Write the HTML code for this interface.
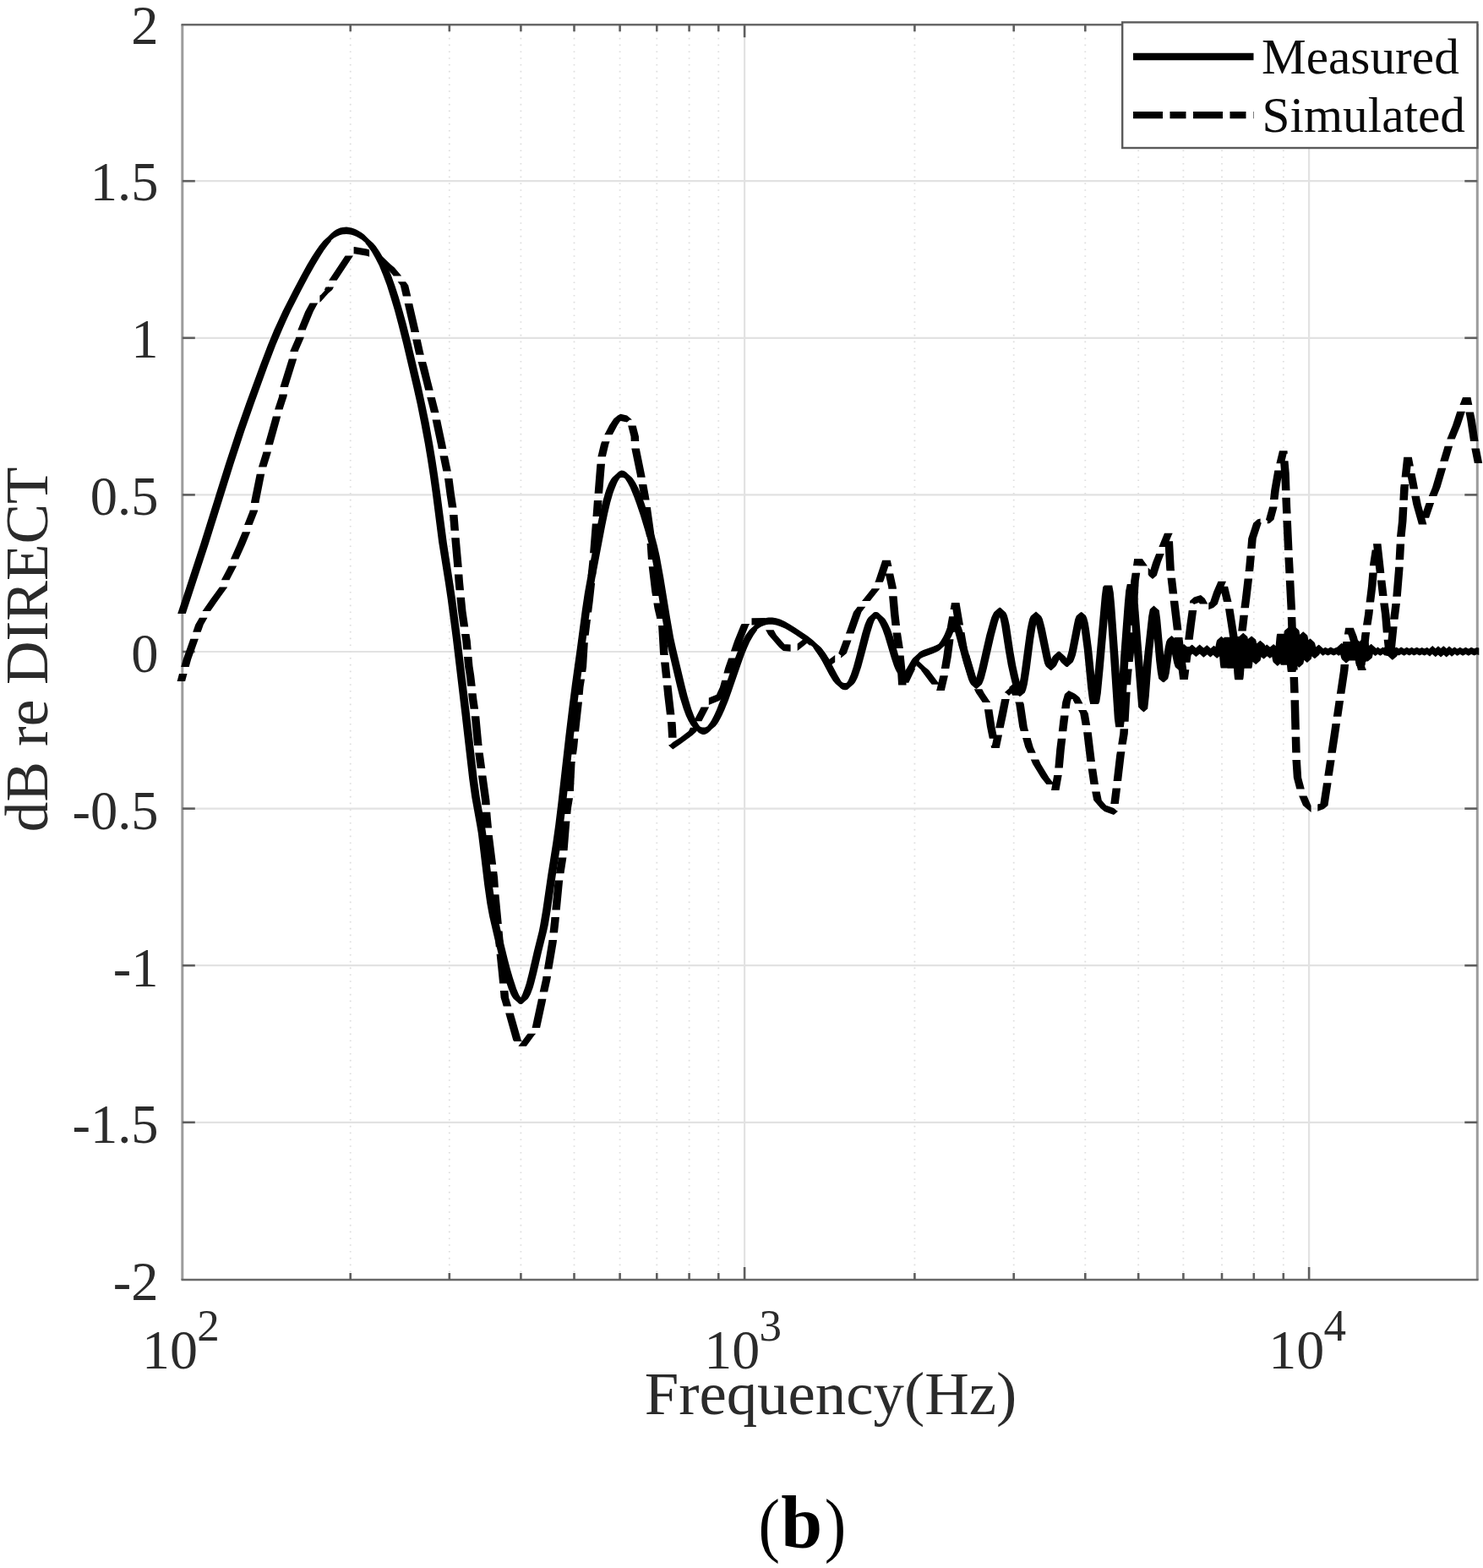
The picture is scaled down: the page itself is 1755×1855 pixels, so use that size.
<!DOCTYPE html>
<html lang="en"><head><meta charset="utf-8"><title>Measured vs simulated frequency response (b)</title>
<style>html,body{margin:0;padding:0;background:#fff}body{width:1755px;height:1855px;overflow:hidden}svg{display:block}text{font-family:"Liberation Serif","DejaVu Serif",serif}</style>
</head><body>
<svg xmlns="http://www.w3.org/2000/svg" width="1755" height="1855" viewBox="0 0 1755 1855">
<rect width="1755" height="1855" fill="#fff"/>
<g stroke="#e2e2e2" stroke-width="2.2" fill="none"><line x1="215.8" x2="1748.3" y1="214.2" y2="214.2"/><line x1="215.8" x2="1748.3" y1="399.8" y2="399.8"/><line x1="215.8" x2="1748.3" y1="585.4" y2="585.4"/><line x1="215.8" x2="1748.3" y1="771.0" y2="771.0"/><line x1="215.8" x2="1748.3" y1="956.6" y2="956.6"/><line x1="215.8" x2="1748.3" y1="1142.2" y2="1142.2"/><line x1="215.8" x2="1748.3" y1="1327.8" y2="1327.8"/><line x1="881.1" x2="881.1" y1="29.2" y2="1514.0"/><line x1="1549.1" x2="1549.1" y1="29.2" y2="1514.0"/></g>
<g stroke="#dedede" stroke-width="1.8" stroke-dasharray="1.6 6.2" fill="none"><line x1="414.7" x2="414.7" y1="29.2" y2="1514.0"/><line x1="531.8" x2="531.8" y1="29.2" y2="1514.0"/><line x1="616.4" x2="616.4" y1="29.2" y2="1514.0"/><line x1="679.5" x2="679.5" y1="29.2" y2="1514.0"/><line x1="733.6" x2="733.6" y1="29.2" y2="1514.0"/><line x1="777.3" x2="777.3" y1="29.2" y2="1514.0"/><line x1="815.6" x2="815.6" y1="29.2" y2="1514.0"/><line x1="850.3" x2="850.3" y1="29.2" y2="1514.0"/><line x1="1082.4" x2="1082.4" y1="29.2" y2="1514.0"/><line x1="1199.7" x2="1199.7" y1="29.2" y2="1514.0"/><line x1="1284.3" x2="1284.3" y1="29.2" y2="1514.0"/><line x1="1347.2" x2="1347.2" y1="29.2" y2="1514.0"/><line x1="1400.4" x2="1400.4" y1="29.2" y2="1514.0"/><line x1="1446.0" x2="1446.0" y1="29.2" y2="1514.0"/><line x1="1483.8" x2="1483.8" y1="29.2" y2="1514.0"/><line x1="1518.8" x2="1518.8" y1="29.2" y2="1514.0"/></g>
<g stroke="#9c9c9c" stroke-width="3" fill="none"><line x1="215.8" x2="215.8" y1="29.2" y2="1514.0"/><line x1="1748.3" x2="1748.3" y1="29.2" y2="1514.0"/></g>
<g stroke="#686868" stroke-width="2.6" fill="none"><line x1="214.5" x2="1749.6" y1="29.2" y2="29.2"/><line x1="214.5" x2="1749.6" y1="1514.0" y2="1514.0"/></g>
<g stroke="#5e5e5e" stroke-width="2.6" fill="none"><line x1="215.8" x2="230.8" y1="214.2" y2="214.2"/><line x1="1733.3" x2="1748.3" y1="214.2" y2="214.2"/><line x1="215.8" x2="230.8" y1="399.8" y2="399.8"/><line x1="1733.3" x2="1748.3" y1="399.8" y2="399.8"/><line x1="215.8" x2="230.8" y1="585.4" y2="585.4"/><line x1="1733.3" x2="1748.3" y1="585.4" y2="585.4"/><line x1="215.8" x2="230.8" y1="771.0" y2="771.0"/><line x1="1733.3" x2="1748.3" y1="771.0" y2="771.0"/><line x1="215.8" x2="230.8" y1="956.6" y2="956.6"/><line x1="1733.3" x2="1748.3" y1="956.6" y2="956.6"/><line x1="215.8" x2="230.8" y1="1142.2" y2="1142.2"/><line x1="1733.3" x2="1748.3" y1="1142.2" y2="1142.2"/><line x1="215.8" x2="230.8" y1="1327.8" y2="1327.8"/><line x1="1733.3" x2="1748.3" y1="1327.8" y2="1327.8"/><line x1="881.1" x2="881.1" y1="1514.0" y2="1499.0"/><line x1="881.1" x2="881.1" y1="29.2" y2="44.2"/><line x1="1549.1" x2="1549.1" y1="1514.0" y2="1499.0"/><line x1="1549.1" x2="1549.1" y1="29.2" y2="44.2"/><line x1="414.7" x2="414.7" y1="1514.0" y2="1506.0"/><line x1="414.7" x2="414.7" y1="29.2" y2="37.2"/><line x1="531.8" x2="531.8" y1="1514.0" y2="1506.0"/><line x1="531.8" x2="531.8" y1="29.2" y2="37.2"/><line x1="616.4" x2="616.4" y1="1514.0" y2="1506.0"/><line x1="616.4" x2="616.4" y1="29.2" y2="37.2"/><line x1="679.5" x2="679.5" y1="1514.0" y2="1506.0"/><line x1="679.5" x2="679.5" y1="29.2" y2="37.2"/><line x1="733.6" x2="733.6" y1="1514.0" y2="1506.0"/><line x1="733.6" x2="733.6" y1="29.2" y2="37.2"/><line x1="777.3" x2="777.3" y1="1514.0" y2="1506.0"/><line x1="777.3" x2="777.3" y1="29.2" y2="37.2"/><line x1="815.6" x2="815.6" y1="1514.0" y2="1506.0"/><line x1="815.6" x2="815.6" y1="29.2" y2="37.2"/><line x1="850.3" x2="850.3" y1="1514.0" y2="1506.0"/><line x1="850.3" x2="850.3" y1="29.2" y2="37.2"/><line x1="1082.4" x2="1082.4" y1="1514.0" y2="1506.0"/><line x1="1082.4" x2="1082.4" y1="29.2" y2="37.2"/><line x1="1199.7" x2="1199.7" y1="1514.0" y2="1506.0"/><line x1="1199.7" x2="1199.7" y1="29.2" y2="37.2"/><line x1="1284.3" x2="1284.3" y1="1514.0" y2="1506.0"/><line x1="1284.3" x2="1284.3" y1="29.2" y2="37.2"/><line x1="1347.2" x2="1347.2" y1="1514.0" y2="1506.0"/><line x1="1347.2" x2="1347.2" y1="29.2" y2="37.2"/><line x1="1400.4" x2="1400.4" y1="1514.0" y2="1506.0"/><line x1="1400.4" x2="1400.4" y1="29.2" y2="37.2"/><line x1="1446.0" x2="1446.0" y1="1514.0" y2="1506.0"/><line x1="1446.0" x2="1446.0" y1="29.2" y2="37.2"/><line x1="1483.8" x2="1483.8" y1="1514.0" y2="1506.0"/><line x1="1483.8" x2="1483.8" y1="29.2" y2="37.2"/><line x1="1518.8" x2="1518.8" y1="1514.0" y2="1506.0"/><line x1="1518.8" x2="1518.8" y1="29.2" y2="37.2"/></g>
<path d="M210.2,726.1L237.2,643.7L267.2,547.9L279.2,511.4L291.2,477.2L307.8,432.0L316.8,408.6L324.2,390.5L328.8,380.4L334.8,367.6L346.8,343.9L355.8,327.1L363.2,313.5L369.2,303.4L373.8,296.5L378.2,290.2L382.8,284.7L392.2,284.7L387.8,290.2L383.2,296.5L378.8,303.4L372.8,313.5L365.2,327.1L356.2,343.9L344.2,367.6L338.2,380.4L333.8,390.5L326.2,408.6L317.2,432.0L300.8,477.2L288.8,511.4L276.8,547.9L246.8,643.7L219.8,726.1ZM387.5,280.5L392.0,276.0L395.0,273.5L398.0,271.6L402.5,269.6L405.5,268.9L410.0,268.6L413.0,268.9L416.0,269.5L419.0,270.5L422.0,271.8L425.0,273.4L428.0,275.3L431.0,277.6L434.0,280.4L437.0,283.5L437.0,291.8L434.0,288.7L431.0,285.9L428.0,283.6L425.0,281.7L422.0,280.1L419.0,278.8L416.0,277.8L413.0,277.2L410.0,276.9L405.5,277.2L402.5,277.9L398.0,279.9L395.0,281.8L392.0,284.3L387.5,288.8ZM441.8,287.7L444.8,291.3L449.2,297.8L453.8,305.5L458.2,314.6L462.8,325.2L467.2,337.5L471.8,351.4L476.2,366.8L480.8,383.3L486.8,407.0L498.8,457.9L503.2,478.4L507.8,500.5L512.2,525.0L515.2,543.0L518.2,562.5L521.2,583.8L528.8,641.8L536.2,689.2L539.2,709.5L545.2,755.3L555.8,843.0L564.8,921.4L567.8,943.0L573.8,976.2L575.2,985.7L576.8,996.9L582.8,1047.0L585.8,1068.3L587.2,1077.1L588.8,1084.6L594.8,1110.3L600.8,1134.8L603.8,1146.2L606.8,1156.6L611.2,1170.0L614.2,1176.9L615.8,1179.6L617.2,1181.7L607.8,1181.7L606.2,1179.6L604.8,1176.9L601.8,1170.0L597.2,1156.6L594.2,1146.2L591.2,1134.8L585.2,1110.3L579.2,1084.6L577.8,1077.1L576.2,1068.3L573.2,1047.0L567.2,996.9L565.8,985.7L564.2,976.2L558.2,943.0L555.2,921.4L546.2,843.0L535.8,755.3L529.8,709.5L526.8,689.2L519.2,641.8L511.8,583.8L508.8,562.5L505.8,543.0L502.8,525.0L498.2,500.5L493.8,478.4L489.2,457.9L477.2,407.0L471.2,383.3L466.8,366.8L462.2,351.4L457.8,337.5L453.2,325.2L448.8,314.6L444.2,305.5L439.8,297.8L435.2,291.3L432.2,287.7ZM612.5,1177.5L614.0,1179.0L615.5,1179.7L617.0,1179.7L618.5,1178.9L620.0,1177.4L620.0,1185.7L618.5,1187.2L617.0,1188.0L615.5,1188.0L614.0,1187.3L612.5,1185.8ZM615.2,1181.5L616.8,1179.2L618.2,1176.2L621.2,1168.2L622.8,1163.2L625.8,1151.6L631.8,1125.6L637.8,1101.4L639.2,1094.2L642.2,1076.5L648.2,1035.3L654.2,997.3L657.2,976.1L660.2,951.5L669.2,871.7L673.8,833.4L676.8,810.1L682.8,767.0L688.8,721.8L691.8,701.7L694.8,684.9L706.8,621.9L709.8,607.4L712.8,594.7L715.8,584.2L717.2,579.7L720.2,572.2L721.8,569.2L723.2,566.7L724.8,564.7L734.2,564.7L732.8,566.7L731.2,569.2L729.8,572.2L726.8,579.7L725.2,584.2L722.2,594.7L719.2,607.4L716.2,621.9L704.2,684.9L701.2,701.7L698.2,721.8L692.2,767.0L686.2,810.1L683.2,833.4L678.8,871.7L669.8,951.5L666.8,976.1L663.8,997.3L657.8,1035.3L651.8,1076.5L648.8,1094.2L647.2,1101.4L641.2,1125.6L635.2,1151.6L632.2,1163.2L630.8,1168.2L627.8,1176.2L626.2,1179.2L624.8,1181.5ZM729.5,560.5L731.0,558.9L732.5,557.7L734.0,557.0L735.5,556.6L737.0,556.7L738.5,557.1L740.0,557.9L741.5,559.1L743.0,560.6L743.0,568.9L741.5,567.4L740.0,566.2L738.5,565.4L737.0,565.0L735.5,564.9L734.0,565.3L732.5,566.0L731.0,567.2L729.5,568.8ZM747.8,564.7L749.2,566.6L752.2,571.2L755.2,577.1L759.8,587.8L762.8,596.1L767.2,609.6L774.8,633.9L777.8,645.2L780.8,658.4L785.2,682.7L792.8,729.3L797.2,754.5L800.2,768.1L810.8,812.3L813.8,824.1L818.2,838.8L821.2,846.7L824.2,853.0L827.2,857.9L830.2,861.4L820.8,861.4L817.8,857.9L814.8,853.0L811.8,846.7L808.8,838.8L804.2,824.1L801.2,812.3L790.8,768.1L787.8,754.5L783.2,729.3L775.8,682.7L771.2,658.4L768.2,645.2L765.2,633.9L757.8,609.6L753.2,596.1L750.2,587.8L745.8,577.1L742.8,571.2L739.8,566.6L738.2,564.7ZM825.5,857.3L827.0,858.6L828.5,859.5L830.0,860.2L831.5,860.6L833.0,860.6L834.5,860.4L836.0,859.8L837.5,859.0L840.5,856.5L842.0,854.8L842.0,863.1L840.5,864.8L837.5,867.3L836.0,868.1L834.5,868.7L833.0,868.9L831.5,868.9L830.0,868.5L828.5,867.8L827.0,866.9L825.5,865.6ZM837.2,859.0L840.2,854.9L841.8,852.4L844.8,846.8L847.8,840.2L852.2,828.9L856.8,816.4L867.2,785.8L871.8,773.6L874.8,766.2L877.8,759.6L882.2,751.5L886.8,745.2L896.2,745.2L891.8,751.5L887.2,759.6L884.2,766.2L881.2,773.6L876.8,785.8L866.2,816.4L861.8,828.9L857.2,840.2L854.2,846.8L851.2,852.4L849.8,854.9L846.8,859.0ZM891.5,741.0L894.5,737.8L897.5,735.2L900.5,733.3L903.5,731.9L906.5,730.9L909.5,730.4L914.0,730.4L918.5,731.2L923.0,732.6L929.0,735.3L935.0,738.7L941.0,742.5L956.0,752.6L962.0,757.2L965.0,760.0L968.0,763.2L968.0,771.5L965.0,768.3L962.0,765.5L956.0,760.9L941.0,750.8L935.0,747.0L929.0,743.6L923.0,740.9L918.5,739.5L914.0,738.7L909.5,738.7L906.5,739.2L903.5,740.2L900.5,741.6L897.5,743.5L894.5,746.1L891.5,749.3ZM972.8,767.4L977.2,773.3L981.8,780.9L990.8,798.1L995.2,805.4L998.2,809.0L988.8,809.0L985.8,805.4L981.2,798.1L972.2,780.9L967.8,773.3L963.2,767.4ZM993.5,804.8L995.0,806.1L996.5,807.1L998.0,807.7L999.5,808.0L1001.0,808.0L1002.5,807.6L1004.0,806.7L1005.5,805.3L1005.5,813.6L1004.0,815.0L1002.5,815.9L1001.0,816.3L999.5,816.3L998.0,816.0L996.5,815.4L995.0,814.4L993.5,813.1ZM1000.8,809.5L1002.2,807.5L1003.8,805.0L1005.2,801.8L1006.8,798.0L1009.8,788.9L1012.8,778.1L1020.2,749.3L1023.2,739.6L1024.8,735.6L1026.2,732.4L1027.8,730.2L1037.2,730.2L1035.8,732.4L1034.2,735.6L1032.8,739.6L1029.8,749.3L1022.2,778.1L1019.2,788.9L1016.2,798.0L1014.8,801.8L1013.2,805.0L1011.8,807.5L1010.2,809.5ZM1032.5,726.0L1034.0,724.6L1035.5,723.9L1037.0,723.9L1038.5,724.3L1040.0,725.3L1041.5,726.7L1041.5,735.0L1040.0,733.6L1038.5,732.6L1037.0,732.1L1035.5,732.2L1034.0,732.9L1032.5,734.3ZM1046.2,730.9L1047.8,732.8L1050.8,737.9L1053.8,744.6L1056.8,753.0L1064.2,778.4L1067.2,787.4L1068.8,791.1L1070.2,794.2L1071.8,796.4L1062.2,796.4L1060.8,794.2L1059.2,791.1L1057.8,787.4L1054.8,778.4L1047.2,753.0L1044.2,744.6L1041.2,737.9L1038.2,732.8L1036.8,730.9ZM1067.0,792.2L1068.5,793.6L1070.0,794.1L1071.5,793.8L1073.0,792.9L1074.5,791.3L1074.5,799.6L1073.0,801.1L1071.5,802.1L1070.0,802.4L1068.5,801.9L1067.0,800.5ZM1069.8,795.4L1072.8,790.9L1078.8,780.7L1080.2,778.7L1089.8,778.7L1088.2,780.7L1082.2,790.9L1079.2,795.4ZM1085.0,774.6L1088.0,771.6L1089.5,770.6L1092.5,769.1L1104.5,764.7L1109.0,762.8L1112.0,760.9L1115.0,758.2L1115.0,766.5L1112.0,769.2L1109.0,771.1L1104.5,773.0L1092.5,777.4L1089.5,778.9L1088.0,779.9L1085.0,782.9ZM1110.2,762.4L1113.2,758.6L1116.2,753.4L1117.8,750.2L1122.2,739.5L1123.8,737.3L1133.2,737.3L1131.8,739.5L1127.2,750.2L1125.8,753.4L1122.8,758.6L1119.8,762.4ZM1128.5,733.2L1130.0,733.0L1130.0,741.3L1128.5,741.5ZM1134.8,737.1L1136.2,738.9L1137.8,742.2L1139.2,746.5L1149.8,784.8L1154.2,799.8L1155.8,804.2L1157.2,807.8L1158.8,810.1L1149.2,810.1L1147.8,807.8L1146.2,804.2L1144.8,799.8L1140.2,784.8L1129.8,746.5L1128.2,742.2L1126.8,738.9L1125.2,737.1ZM1154.0,805.9L1155.5,806.7L1157.0,805.6L1157.0,813.9L1155.5,815.0L1154.0,814.2ZM1152.2,809.7L1153.8,806.8L1155.2,802.4L1158.2,790.9L1167.2,751.4L1171.8,734.9L1173.2,730.5L1174.8,726.9L1176.2,724.3L1185.8,724.3L1184.2,726.9L1182.8,730.5L1181.2,734.9L1176.8,751.4L1167.8,790.9L1164.8,802.4L1163.2,806.8L1161.8,809.7ZM1181.0,720.1L1182.5,718.7L1184.0,718.7L1185.5,720.2L1185.5,728.5L1184.0,727.0L1182.5,727.0L1181.0,728.4ZM1190.2,724.4L1191.8,727.7L1193.2,732.8L1194.8,740.0L1199.2,769.8L1202.2,787.1L1205.2,800.6L1208.2,812.5L1209.8,817.1L1211.2,819.8L1201.8,819.8L1200.2,817.1L1198.8,812.5L1195.8,800.6L1192.8,787.1L1189.8,769.8L1185.2,740.0L1183.8,732.8L1182.2,727.7L1180.8,724.4ZM1206.5,815.6L1208.0,815.3L1208.0,823.6L1206.5,823.9ZM1203.2,819.4L1204.8,815.9L1206.2,809.8L1207.8,801.3L1209.2,790.9L1213.8,756.4L1215.2,746.4L1216.8,738.2L1218.2,732.3L1219.8,728.8L1229.2,728.8L1227.8,732.3L1226.2,738.2L1224.8,746.4L1223.2,756.4L1218.8,790.9L1217.2,801.3L1215.8,809.8L1214.2,815.9L1212.8,819.4ZM1224.5,724.7L1226.0,723.6L1227.5,724.8L1227.5,733.1L1226.0,731.9L1224.5,733.0ZM1232.2,728.9L1233.8,732.3L1235.2,737.2L1236.8,743.5L1244.2,779.7L1245.8,785.2L1247.2,788.5L1237.8,788.5L1236.2,785.2L1234.8,779.7L1227.2,743.5L1225.8,737.2L1224.2,732.3L1222.8,728.9ZM1242.5,784.3L1244.0,784.9L1244.0,793.2L1242.5,792.6ZM1239.2,789.1L1240.8,787.2L1245.2,777.5L1246.8,775.4L1256.2,775.4L1254.8,777.5L1250.2,787.2L1248.8,789.1ZM1251.5,771.3L1253.0,770.4L1254.5,770.9L1256.0,772.5L1256.0,780.8L1254.5,779.2L1253.0,778.7L1251.5,779.6ZM1260.8,776.7L1265.2,783.8L1255.8,783.8L1251.2,776.7ZM1260.5,779.6L1262.0,780.9L1263.5,780.7L1265.0,779.1L1265.0,787.4L1263.5,789.0L1262.0,789.1L1260.5,787.9ZM1260.2,783.2L1261.8,780.1L1263.2,775.6L1264.8,769.7L1270.8,739.0L1272.2,732.6L1273.8,728.6L1283.2,728.6L1281.8,732.6L1280.2,739.0L1274.2,769.7L1272.8,775.6L1271.2,780.1L1269.8,783.2ZM1278.5,724.5L1280.0,723.9L1280.0,732.2L1278.5,732.8ZM1284.8,728.0L1286.2,730.9L1287.8,736.9L1289.2,745.4L1292.2,768.5L1296.8,814.1L1298.2,826.8L1299.8,833.0L1290.2,833.0L1288.8,826.8L1287.2,814.1L1282.8,768.5L1279.8,745.4L1278.2,736.9L1276.8,730.9L1275.2,728.0ZM1290.2,833.0L1291.8,830.4L1293.2,820.6L1296.2,789.7L1303.8,705.1L1305.2,694.4L1306.8,692.6L1316.2,692.6L1314.8,694.4L1313.2,705.1L1305.8,789.7L1302.8,820.6L1301.2,830.4L1299.8,833.0ZM1316.2,692.6L1317.8,700.9L1319.2,716.6L1323.8,780.0L1328.2,850.1L1329.8,860.3L1320.2,860.3L1318.8,850.1L1314.2,780.0L1309.8,716.6L1308.2,700.9L1306.8,692.6ZM1320.2,860.3L1321.8,849.2L1326.2,775.5L1330.8,713.8L1332.2,698.7L1333.8,691.0L1343.2,691.0L1341.8,698.7L1340.2,713.8L1335.8,775.5L1331.2,849.2L1329.8,860.3ZM1343.2,691.0L1344.8,693.8L1346.2,705.9L1355.2,819.8L1356.8,836.7L1347.2,836.7L1345.8,819.8L1336.8,705.9L1335.2,693.8L1333.8,691.0ZM1352.0,832.6L1353.5,834.2L1353.5,842.5L1352.0,840.9ZM1348.8,838.4L1350.2,823.8L1353.2,784.2L1354.8,769.1L1359.2,728.9L1360.8,720.8L1370.2,720.8L1368.8,728.9L1364.2,769.1L1362.8,784.2L1359.8,823.8L1358.2,838.4ZM1365.5,716.6L1367.0,717.9L1367.0,726.2L1365.5,724.9ZM1371.8,722.1L1373.2,732.4L1377.8,782.2L1379.2,795.3L1380.8,802.9L1371.2,802.9L1369.8,795.3L1368.2,782.2L1363.8,732.4L1362.2,722.1ZM1376.0,798.7L1377.5,799.0L1377.5,807.3L1376.0,807.0ZM1372.8,803.1L1374.2,796.6L1377.2,775.0L1378.8,765.5L1380.2,758.9L1381.8,756.0L1391.2,756.0L1389.8,758.9L1388.2,765.5L1386.8,775.0L1383.8,796.6L1382.2,803.1ZM1386.5,751.9L1388.0,753.5L1388.0,761.8L1386.5,760.2ZM1392.8,757.6L1394.2,762.7L1398.8,784.5L1400.2,789.2L1390.8,789.2L1389.2,784.5L1384.8,762.7L1383.2,757.6ZM1395.5,785.0L1396.1,785.1L1396.1,793.4L1395.5,793.3ZM1391.4,789.3L1394.2,772.4L1395.0,768.7L1395.8,766.5L1405.2,766.5L1404.5,768.7L1403.7,772.4L1400.9,789.3ZM1400.5,762.4L1401.2,762.0L1401.2,770.3L1400.5,770.7ZM1405.9,766.1L1406.6,766.9L1408.6,772.3L1409.3,773.7L1399.8,773.7L1399.1,772.3L1397.1,766.9L1396.4,766.1ZM1404.6,769.6L1405.3,770.2L1406.0,769.8L1406.0,778.1L1405.3,778.5L1404.6,777.9ZM1401.2,773.9L1402.0,772.9L1404.2,768.5L1404.9,767.4L1414.4,767.4L1413.7,768.5L1411.5,772.9L1410.7,773.9ZM1409.7,763.3L1410.4,762.8L1411.3,763.1L1411.3,771.4L1410.4,771.1L1409.7,771.6ZM1416.0,767.3L1416.9,768.3L1419.4,772.4L1409.9,772.4L1407.4,768.3L1406.5,767.3ZM1414.7,768.2L1415.5,768.7L1416.2,768.2L1416.2,776.5L1415.5,777.0L1414.7,776.5ZM1411.5,772.4L1414.3,767.2L1423.8,767.2L1421.0,772.4ZM1419.1,763.0L1419.8,762.6L1420.6,763.2L1420.6,771.5L1419.8,770.9L1419.1,771.3ZM1425.3,767.3L1428.5,773.1L1419.0,773.1L1415.8,767.3ZM1423.7,768.9L1424.5,769.5L1425.1,769.0L1425.1,777.3L1424.5,777.8L1423.7,777.2ZM1420.4,773.2L1422.9,767.8L1432.4,767.8L1429.9,773.2ZM1427.6,763.7L1428.2,763.2L1429.0,763.8L1429.0,772.1L1428.2,771.5L1427.6,772.0ZM1433.8,767.9L1436.1,772.6L1426.6,772.6L1424.3,767.9ZM1431.4,768.5L1432.2,769.1L1433.1,768.6L1433.1,776.9L1432.2,777.4L1431.4,776.8ZM1428.4,772.7L1431.1,768.4L1440.6,768.4L1437.9,772.7ZM1435.9,764.2L1436.7,763.7L1437.4,764.4L1437.4,772.7L1436.7,772.0L1435.9,772.5ZM1442.2,768.6L1444.1,773.6L1444.7,774.6L1435.2,774.6L1434.6,773.6L1432.7,768.6ZM1440.0,770.4L1440.7,770.3L1440.7,778.6L1440.0,778.7ZM1435.9,774.4L1437.0,771.4L1439.6,759.1L1440.3,757.2L1449.8,757.2L1449.1,759.1L1446.5,771.4L1445.4,774.4ZM1445.1,753.0L1445.4,752.7L1445.4,761.0L1445.1,761.3ZM1450.2,756.9L1450.7,757.6L1451.3,761.0L1453.4,786.0L1454.0,789.8L1454.4,790.6L1444.9,790.6L1444.5,789.8L1443.9,786.0L1441.8,761.0L1441.2,757.6L1440.7,756.9ZM1444.9,790.6L1445.2,789.5L1445.8,785.3L1447.9,757.5L1448.3,754.8L1448.7,753.8L1458.2,753.8L1457.8,754.8L1457.4,757.5L1455.3,785.3L1454.7,789.5L1454.4,790.6ZM1458.2,753.8L1458.6,754.8L1459.1,758.9L1461.0,785.6L1461.6,789.7L1462.0,790.7L1452.5,790.7L1452.1,789.7L1451.5,785.6L1449.6,758.9L1449.1,754.8L1448.7,753.8ZM1452.5,790.7L1452.9,789.6L1453.6,785.4L1456.4,756.9L1456.9,754.0L1457.3,752.9L1466.8,752.9L1466.4,754.0L1465.9,756.9L1463.1,785.4L1462.4,789.6L1462.0,790.7ZM1466.8,752.9L1467.1,753.2L1467.3,754.2L1467.8,758.7L1469.8,796.0L1470.4,802.4L1470.9,804.3L1461.4,804.3L1460.9,802.4L1460.3,796.0L1458.3,758.7L1457.8,754.2L1457.6,753.2L1457.3,752.9ZM1461.4,804.3L1461.9,803.1L1462.4,798.8L1465.1,762.3L1465.8,755.5L1466.4,752.9L1475.9,752.9L1475.3,755.5L1474.6,762.3L1471.9,798.8L1471.4,803.1L1470.9,804.3ZM1471.2,748.8L1471.3,748.7L1471.3,757.0L1471.2,757.1ZM1476.1,752.9L1476.4,753.4L1477.1,756.9L1479.9,785.3L1480.6,789.5L1481.1,790.7L1471.6,790.7L1471.1,789.5L1470.4,785.3L1467.6,756.9L1466.9,753.4L1466.6,752.9ZM1471.6,790.7L1472.1,789.8L1472.6,787.1L1475.1,762.6L1475.7,758.1L1476.2,756.6L1485.7,756.6L1485.2,758.1L1484.6,762.6L1482.1,787.1L1481.6,789.8L1481.1,790.7ZM1481.0,752.5L1481.2,752.4L1481.2,760.7L1481.0,760.8ZM1486.0,756.6L1486.2,756.9L1486.9,759.5L1489.6,777.7L1490.4,781.0L1490.9,781.9L1481.4,781.9L1480.9,781.0L1480.1,777.7L1477.4,759.5L1476.7,756.9L1476.5,756.6ZM1486.1,777.7L1486.4,777.7L1486.4,786.0L1486.1,786.0ZM1481.7,781.8L1482.0,781.4L1482.6,779.6L1485.4,765.3L1485.9,763.1L1486.5,762.0L1496.0,762.0L1495.4,763.1L1494.9,765.3L1492.1,779.6L1491.5,781.4L1491.2,781.8ZM1491.3,757.8L1491.7,757.9L1491.7,766.2L1491.3,766.1ZM1496.4,762.0L1497.2,763.8L1499.0,772.5L1499.7,775.0L1500.1,775.5L1490.6,775.5L1490.2,775.0L1489.5,772.5L1487.7,763.8L1486.9,762.0ZM1495.3,771.3L1495.8,771.2L1495.8,779.5L1495.3,779.6ZM1491.1,775.3L1491.6,774.4L1493.5,768.1L1494.0,767.0L1503.5,767.0L1503.0,768.1L1501.1,774.4L1500.6,775.3ZM1498.7,762.8L1499.2,762.4L1499.7,762.8L1499.7,771.1L1499.2,770.7L1498.7,771.1ZM1504.5,767.0L1505.0,768.2L1506.5,773.2L1507.1,774.4L1497.6,774.4L1497.0,773.2L1495.5,768.2L1495.0,767.0ZM1502.3,770.3L1502.9,770.8L1503.4,770.3L1503.4,778.6L1502.9,779.1L1502.3,778.6ZM1498.7,774.5L1499.2,773.3L1501.5,767.1L1502.1,766.3L1511.6,766.3L1511.0,767.1L1508.7,773.3L1508.2,774.5ZM1506.9,762.2L1507.5,762.2L1507.5,770.5L1506.9,770.5ZM1512.2,766.4L1512.5,766.9L1513.2,769.3L1515.6,781.6L1516.3,783.6L1506.8,783.6L1506.1,781.6L1503.7,769.3L1503.0,766.9L1502.7,766.4ZM1511.5,779.4L1511.8,779.7L1512.1,779.4L1512.1,787.7L1511.8,788.0L1511.5,787.7ZM1507.4,783.6L1507.9,781.8L1508.5,777.0L1510.5,754.3L1511.0,750.5L1511.5,749.7L1521.0,749.7L1520.5,750.5L1520.0,754.3L1518.0,777.0L1517.4,781.8L1516.9,783.6ZM1521.0,749.7L1521.5,751.5L1522.1,756.1L1524.4,782.3L1524.9,786.0L1525.4,786.8L1515.9,786.8L1515.4,786.0L1514.9,782.3L1512.6,756.1L1512.0,751.5L1511.5,749.7ZM1515.9,786.8L1516.3,785.8L1516.8,782.0L1519.1,752.5L1519.6,748.0L1520.1,746.1L1529.6,746.1L1529.1,748.0L1528.6,752.5L1526.3,782.0L1525.8,785.8L1525.4,786.8ZM1524.9,741.9L1525.1,742.1L1525.1,750.4L1524.9,750.2ZM1529.8,746.3L1530.0,747.1L1530.5,751.7L1532.5,787.5L1533.0,792.8L1533.4,794.9L1523.9,794.9L1523.5,792.8L1523.0,787.5L1521.0,751.7L1520.5,747.1L1520.3,746.3ZM1523.9,794.9L1524.4,792.9L1524.8,787.6L1526.7,752.1L1527.2,747.1L1527.5,745.6L1537.0,745.6L1536.7,747.1L1536.2,752.1L1534.3,787.6L1533.9,792.9L1533.4,794.9ZM1532.2,741.4L1532.4,741.2L1532.4,749.5L1532.2,749.7ZM1537.2,745.4L1537.7,747.3L1538.3,751.9L1540.9,780.3L1541.6,784.3L1542.0,785.5L1532.5,785.5L1532.1,784.3L1531.4,780.3L1528.8,751.9L1528.2,747.3L1527.7,745.4ZM1537.3,781.4L1537.4,781.4L1537.4,789.7L1537.3,789.7ZM1532.7,785.5L1533.0,784.7L1533.6,782.0L1536.2,757.3L1536.9,752.8L1537.4,751.5L1546.9,751.5L1546.4,752.8L1545.7,757.3L1543.1,782.0L1542.5,784.7L1542.2,785.5ZM1542.1,747.3L1542.3,747.3L1542.3,755.6L1542.1,755.6ZM1547.1,751.5L1547.5,752.4L1548.1,755.6L1550.5,775.6L1551.0,778.8L1551.4,779.7L1541.9,779.7L1541.5,778.8L1541.0,775.6L1538.6,755.6L1538.0,752.4L1537.6,751.5ZM1546.6,775.5L1546.9,775.6L1546.9,783.9L1546.6,783.8ZM1542.1,779.7L1542.4,779.3L1542.8,777.5L1544.6,762.9L1545.1,760.6L1545.6,759.6L1555.1,759.6L1554.6,760.6L1554.1,762.9L1552.3,777.5L1551.9,779.3L1551.6,779.7ZM1550.3,755.4L1550.7,755.5L1550.7,763.8L1550.3,763.7ZM1555.4,759.7L1556.2,761.2L1559.0,772.2L1559.8,774.4L1560.2,774.9L1550.7,774.9L1550.3,774.4L1549.5,772.2L1546.7,761.2L1545.9,759.7ZM1555.5,770.7L1556.2,770.7L1556.2,779.0L1555.5,779.0ZM1551.4,774.9L1552.1,774.0L1554.1,769.0L1554.8,767.6L1564.3,767.6L1563.6,769.0L1561.6,774.0L1560.9,774.9ZM1559.6,763.5L1560.3,762.8L1561.3,763.0L1562.4,764.0L1562.4,772.3L1561.3,771.3L1560.3,771.1L1559.6,771.8ZM1567.1,768.2L1569.2,770.8L1559.7,770.8L1557.6,768.2ZM1564.5,766.6L1565.4,767.4L1566.9,766.7L1568.2,765.7L1571.5,767.3L1574.8,765.6L1578.3,767.3L1581.8,765.8L1583.2,766.9L1584.6,767.4L1584.6,775.7L1583.2,775.2L1581.8,774.1L1578.3,775.6L1574.8,773.9L1571.5,775.6L1568.2,774.0L1566.9,775.0L1565.4,775.7L1564.5,774.9ZM1579.8,771.6L1580.4,770.7L1582.0,766.1L1582.7,765.2L1592.2,765.2L1591.5,766.1L1589.9,770.7L1589.3,771.6ZM1587.4,761.0L1588.1,761.1L1588.1,769.4L1587.4,769.3ZM1592.9,765.3L1593.9,768.0L1596.8,778.8L1597.6,780.3L1588.1,780.3L1587.3,778.8L1584.4,768.0L1583.4,765.3ZM1592.8,776.2L1593.2,776.3L1593.2,784.6L1592.8,784.5ZM1588.4,780.4L1588.7,780.1L1589.3,778.4L1591.5,764.0L1592.0,761.9L1592.5,761.2L1602.0,761.2L1601.5,761.9L1601.0,764.0L1598.8,778.4L1598.2,780.1L1597.9,780.4ZM1602.0,761.2L1602.5,762.0L1603.0,764.1L1605.0,778.8L1605.5,780.9L1605.9,781.6L1596.4,781.6L1596.0,780.9L1595.5,778.8L1593.5,764.1L1593.0,762.0L1592.5,761.2ZM1596.4,781.6L1596.8,780.8L1597.2,778.6L1599.3,762.1L1599.8,760.3L1600.0,759.8L1609.5,759.8L1609.3,760.3L1608.8,762.1L1606.7,778.6L1606.3,780.8L1605.9,781.6ZM1604.8,755.7L1605.0,755.7L1605.0,764.0L1604.8,764.0ZM1609.8,759.8L1610.4,761.5L1611.0,765.1L1613.9,784.9L1614.5,787.6L1614.9,788.1L1605.4,788.1L1605.0,787.6L1604.4,784.9L1601.5,765.1L1600.9,761.5L1600.3,759.8ZM1605.4,788.1L1606.0,786.9L1606.5,783.7L1608.5,761.5L1609.0,759.1L1609.1,758.7L1618.6,758.7L1618.5,759.1L1618.0,761.5L1616.0,783.7L1615.5,786.9L1614.9,788.1ZM1613.9,754.6L1614.1,754.5L1614.1,762.8L1613.9,762.9ZM1618.9,758.7L1619.7,761.0L1622.0,774.6L1622.5,777.1L1623.1,778.4L1613.6,778.4L1613.0,777.1L1612.5,774.6L1610.2,761.0L1609.4,758.7ZM1618.3,774.2L1618.7,774.2L1618.7,782.5L1618.3,782.5ZM1614.0,778.4L1614.4,777.7L1616.7,768.1L1617.1,766.9L1617.6,766.3L1627.1,766.3L1626.6,766.9L1626.2,768.1L1623.9,777.7L1623.5,778.4ZM1622.3,762.1L1623.1,762.1L1624.0,763.0L1624.0,771.3L1623.1,770.4L1622.3,770.4ZM1628.7,767.1L1631.3,771.2L1621.8,771.2L1619.2,767.1ZM1626.5,767.0L1627.2,767.7L1628.8,766.9L1630.1,765.6L1631.3,766.1L1632.5,766.9L1633.6,767.4L1636.6,765.5L1637.9,766.7L1639.2,767.5L1639.2,775.8L1637.9,775.0L1636.6,773.8L1633.6,775.7L1632.5,775.2L1631.3,774.4L1630.1,773.9L1628.8,775.2L1627.2,776.0L1626.5,775.3ZM1634.4,771.6L1635.1,770.8L1636.4,767.9L1637.2,766.7L1646.7,766.7L1645.9,767.9L1644.6,770.8L1643.9,771.6ZM1641.9,762.6L1642.7,762.4L1642.7,770.7L1641.9,770.9ZM1647.5,766.6L1648.5,768.1L1651.3,775.2L1651.8,776.1L1642.3,776.1L1641.8,775.2L1639.0,768.1L1638.0,766.6ZM1647.1,772.0L1647.6,772.5L1648.3,772.2L1648.3,780.5L1647.6,780.8L1647.1,780.3ZM1643.6,776.4L1644.3,775.3L1646.5,770.7L1647.1,769.9L1656.6,769.9L1656.0,770.7L1653.8,775.3L1653.1,776.4ZM1651.9,765.8L1653.1,765.8L1654.2,766.7L1655.3,767.3L1658.2,765.6L1661.7,767.5L1664.6,765.8L1667.9,767.3L1670.6,765.8L1673.2,767.3L1676.8,765.7L1679.9,767.3L1682.7,765.9L1685.5,767.3L1686.6,766.9L1687.7,766.2L1688.9,765.9L1690.0,766.6L1691.2,767.7L1692.3,768.1L1693.1,767.3L1693.1,775.6L1692.3,776.4L1691.2,776.0L1690.0,774.9L1688.9,774.2L1687.7,774.5L1686.6,775.2L1685.5,775.6L1682.7,774.2L1679.9,775.6L1676.8,774.0L1673.2,775.6L1670.6,774.1L1667.9,775.6L1664.6,774.1L1661.7,775.8L1658.2,773.9L1655.3,775.6L1654.2,775.0L1653.1,774.1L1651.9,774.1ZM1688.3,771.4L1689.9,768.7L1699.4,768.7L1697.8,771.4ZM1694.7,764.5L1695.5,764.0L1696.3,764.9L1696.3,773.2L1695.5,772.3L1694.7,772.8ZM1701.1,769.0L1702.7,772.4L1693.2,772.4L1691.6,769.0ZM1698.0,768.2L1698.8,769.0L1699.6,768.2L1699.6,776.5L1698.8,777.3L1698.0,776.5ZM1694.9,772.4L1696.5,769.1L1706.0,769.1L1704.4,772.4ZM1701.3,764.9L1702.0,764.2L1702.8,765.0L1702.8,773.3L1702.0,772.5L1701.3,773.2ZM1707.6,769.2L1709.0,772.7L1699.5,772.7L1698.1,769.2ZM1704.3,768.5L1705.0,769.3L1705.7,768.8L1705.7,777.1L1705.0,777.6L1704.3,776.8ZM1700.9,773.0L1702.8,768.9L1712.3,768.9L1710.4,773.0ZM1707.6,764.7L1708.3,764.2L1709.0,764.7L1709.0,773.0L1708.3,772.5L1707.6,773.0ZM1713.7,768.8L1715.9,772.8L1706.4,772.8L1704.2,768.8ZM1711.1,768.7L1711.8,769.2L1712.6,768.5L1712.6,776.8L1711.8,777.5L1711.1,777.0ZM1707.9,772.7L1709.4,769.4L1718.9,769.4L1717.4,772.7ZM1714.1,765.3L1714.9,764.4L1715.7,765.0L1715.7,773.3L1714.9,772.7L1714.1,773.6ZM1720.4,769.1L1721.9,771.8L1712.4,771.8L1710.9,769.1ZM1717.2,767.7L1717.9,768.4L1719.0,767.7L1719.0,776.0L1717.9,776.7L1717.2,776.0ZM1714.3,771.9L1715.3,770.5L1724.8,770.5L1723.8,771.9ZM1720.1,766.3L1721.2,765.5L1722.3,765.9L1723.4,766.9L1724.5,767.4L1725.7,767.0L1726.8,766.2L1727.9,765.8L1731.1,767.4L1734.5,765.8L1737.9,767.4L1741.1,765.8L1744.6,767.2L1747.7,766.0L1750.3,766.6L1750.3,774.9L1747.7,774.3L1744.6,775.5L1741.1,774.1L1737.9,775.7L1734.5,774.1L1731.1,775.7L1727.9,774.1L1726.8,774.5L1725.7,775.3L1724.5,775.7L1723.4,775.2L1722.3,774.2L1721.2,773.8L1720.1,774.6ZM382.8,284.7L387.5,280.5L392.2,284.7L387.5,288.8ZM432.2,287.7L437.0,283.5L441.8,287.7L437.0,291.8ZM607.8,1181.7L612.5,1177.5L617.2,1181.7L612.5,1185.8ZM615.2,1181.5L620.0,1177.4L624.8,1181.5L620.0,1185.7ZM724.8,564.7L729.5,560.5L734.2,564.7L729.5,568.8ZM738.2,564.7L743.0,560.6L747.8,564.7L743.0,568.9ZM820.8,861.4L825.5,857.3L830.2,861.4L825.5,865.6ZM837.2,859.0L842.0,854.8L846.8,859.0L842.0,863.1ZM886.8,745.2L891.5,741.0L896.2,745.2L891.5,749.3ZM963.2,767.4L968.0,763.2L972.8,767.4L968.0,771.5ZM988.8,809.0L993.5,804.8L998.2,809.0L993.5,813.1ZM1000.8,809.5L1005.5,805.3L1010.2,809.5L1005.5,813.6ZM1027.8,730.2L1032.5,726.0L1037.2,730.2L1032.5,734.3ZM1036.8,730.9L1041.5,726.7L1046.2,730.9L1041.5,735.0ZM1062.2,796.4L1067.0,792.2L1071.8,796.4L1067.0,800.5ZM1069.8,795.4L1074.5,791.3L1079.2,795.4L1074.5,799.6ZM1080.2,778.7L1085.0,774.6L1089.8,778.7L1085.0,782.9ZM1110.2,762.4L1115.0,758.2L1119.8,762.4L1115.0,766.5ZM1123.8,737.3L1128.5,733.2L1133.2,737.3L1128.5,741.5ZM1125.2,737.1L1130.0,733.0L1134.8,737.1L1130.0,741.3ZM1149.2,810.1L1154.0,805.9L1158.8,810.1L1154.0,814.2ZM1152.2,809.7L1157.0,805.6L1161.8,809.7L1157.0,813.9ZM1176.2,724.3L1181.0,720.1L1185.8,724.3L1181.0,728.4ZM1180.8,724.4L1185.5,720.2L1190.2,724.4L1185.5,728.5ZM1201.8,819.8L1206.5,815.6L1211.2,819.8L1206.5,823.9ZM1203.2,819.4L1208.0,815.3L1212.8,819.4L1208.0,823.6ZM1219.8,728.8L1224.5,724.7L1229.2,728.8L1224.5,733.0ZM1222.8,728.9L1227.5,724.8L1232.2,728.9L1227.5,733.1ZM1237.8,788.5L1242.5,784.3L1247.2,788.5L1242.5,792.6ZM1239.2,789.1L1244.0,784.9L1248.8,789.1L1244.0,793.2ZM1246.8,775.4L1251.5,771.3L1256.2,775.4L1251.5,779.6ZM1251.2,776.7L1256.0,772.5L1260.8,776.7L1256.0,780.8ZM1255.8,783.8L1260.5,779.6L1265.2,783.8L1260.5,787.9ZM1260.2,783.2L1265.0,779.1L1269.8,783.2L1265.0,787.4ZM1273.8,728.6L1278.5,724.5L1283.2,728.6L1278.5,732.8ZM1275.2,728.0L1280.0,723.9L1284.8,728.0L1280.0,732.2ZM1347.2,836.7L1352.0,832.6L1356.8,836.7L1352.0,840.9ZM1348.8,838.4L1353.5,834.2L1358.2,838.4L1353.5,842.5ZM1360.8,720.8L1365.5,716.6L1370.2,720.8L1365.5,724.9ZM1362.2,722.1L1367.0,717.9L1371.8,722.1L1367.0,726.2ZM1371.2,802.9L1376.0,798.7L1380.8,802.9L1376.0,807.0ZM1372.8,803.1L1377.5,799.0L1382.2,803.1L1377.5,807.3ZM1381.8,756.0L1386.5,751.9L1391.2,756.0L1386.5,760.2ZM1383.2,757.6L1388.0,753.5L1392.8,757.6L1388.0,761.8ZM1390.8,789.2L1395.5,785.0L1400.2,789.2L1395.5,793.3ZM1391.4,789.3L1396.1,785.1L1400.9,789.3L1396.1,793.4ZM1395.8,766.5L1400.5,762.4L1405.2,766.5L1400.5,770.7ZM1396.4,766.1L1401.2,762.0L1405.9,766.1L1401.2,770.3ZM1399.8,773.7L1404.6,769.6L1409.3,773.7L1404.6,777.9ZM1401.2,773.9L1406.0,769.8L1410.7,773.9L1406.0,778.1ZM1404.9,767.4L1409.7,763.3L1414.4,767.4L1409.7,771.6ZM1406.5,767.3L1411.3,763.1L1416.0,767.3L1411.3,771.4ZM1409.9,772.4L1414.7,768.2L1419.4,772.4L1414.7,776.5ZM1411.5,772.4L1416.2,768.2L1421.0,772.4L1416.2,776.5ZM1414.3,767.2L1419.1,763.0L1423.8,767.2L1419.1,771.3ZM1415.8,767.3L1420.6,763.2L1425.3,767.3L1420.6,771.5ZM1419.0,773.1L1423.7,768.9L1428.5,773.1L1423.7,777.2ZM1420.4,773.2L1425.1,769.0L1429.9,773.2L1425.1,777.3ZM1422.9,767.8L1427.6,763.7L1432.4,767.8L1427.6,772.0ZM1424.3,767.9L1429.0,763.8L1433.8,767.9L1429.0,772.1ZM1426.6,772.6L1431.4,768.5L1436.1,772.6L1431.4,776.8ZM1428.4,772.7L1433.1,768.6L1437.9,772.7L1433.1,776.9ZM1431.1,768.4L1435.9,764.2L1440.6,768.4L1435.9,772.5ZM1432.7,768.6L1437.4,764.4L1442.2,768.6L1437.4,772.7ZM1435.2,774.6L1440.0,770.4L1444.7,774.6L1440.0,778.7ZM1435.9,774.4L1440.7,770.3L1445.4,774.4L1440.7,778.6ZM1440.3,757.2L1445.1,753.0L1449.8,757.2L1445.1,761.3ZM1440.7,756.9L1445.4,752.7L1450.2,756.9L1445.4,761.0ZM1466.4,752.9L1471.2,748.8L1475.9,752.9L1471.2,757.1ZM1466.6,752.9L1471.3,748.7L1476.1,752.9L1471.3,757.0ZM1476.2,756.6L1481.0,752.5L1485.7,756.6L1481.0,760.8ZM1476.5,756.6L1481.2,752.4L1486.0,756.6L1481.2,760.7ZM1481.4,781.9L1486.1,777.7L1490.9,781.9L1486.1,786.0ZM1481.7,781.8L1486.4,777.7L1491.2,781.8L1486.4,786.0ZM1486.5,762.0L1491.3,757.8L1496.0,762.0L1491.3,766.1ZM1486.9,762.0L1491.7,757.9L1496.4,762.0L1491.7,766.2ZM1490.6,775.5L1495.3,771.3L1500.1,775.5L1495.3,779.6ZM1491.1,775.3L1495.8,771.2L1500.6,775.3L1495.8,779.5ZM1494.0,767.0L1498.7,762.8L1503.5,767.0L1498.7,771.1ZM1495.0,767.0L1499.7,762.8L1504.5,767.0L1499.7,771.1ZM1497.6,774.4L1502.3,770.3L1507.1,774.4L1502.3,778.6ZM1498.7,774.5L1503.4,770.3L1508.2,774.5L1503.4,778.6ZM1502.1,766.3L1506.9,762.2L1511.6,766.3L1506.9,770.5ZM1502.7,766.4L1507.5,762.2L1512.2,766.4L1507.5,770.5ZM1506.8,783.6L1511.5,779.4L1516.3,783.6L1511.5,787.7ZM1507.4,783.6L1512.1,779.4L1516.9,783.6L1512.1,787.7ZM1520.1,746.1L1524.9,741.9L1529.6,746.1L1524.9,750.2ZM1520.3,746.3L1525.1,742.1L1529.8,746.3L1525.1,750.4ZM1527.5,745.6L1532.2,741.4L1537.0,745.6L1532.2,749.7ZM1527.7,745.4L1532.4,741.2L1537.2,745.4L1532.4,749.5ZM1532.5,785.5L1537.3,781.4L1542.0,785.5L1537.3,789.7ZM1532.7,785.5L1537.4,781.4L1542.2,785.5L1537.4,789.7ZM1537.4,751.5L1542.1,747.3L1546.9,751.5L1542.1,755.6ZM1537.6,751.5L1542.3,747.3L1547.1,751.5L1542.3,755.6ZM1541.9,779.7L1546.6,775.5L1551.4,779.7L1546.6,783.8ZM1542.1,779.7L1546.9,775.6L1551.6,779.7L1546.9,783.9ZM1545.6,759.6L1550.3,755.4L1555.1,759.6L1550.3,763.7ZM1545.9,759.7L1550.7,755.5L1555.4,759.7L1550.7,763.8ZM1550.7,774.9L1555.5,770.7L1560.2,774.9L1555.5,779.0ZM1551.4,774.9L1556.2,770.7L1560.9,774.9L1556.2,779.0ZM1554.8,767.6L1559.6,763.5L1564.3,767.6L1559.6,771.8ZM1557.6,768.2L1562.4,764.0L1567.1,768.2L1562.4,772.3ZM1559.7,770.8L1564.5,766.6L1569.2,770.8L1564.5,774.9ZM1579.8,771.6L1584.6,767.4L1589.3,771.6L1584.6,775.7ZM1582.7,765.2L1587.4,761.0L1592.2,765.2L1587.4,769.3ZM1583.4,765.3L1588.1,761.1L1592.9,765.3L1588.1,769.4ZM1588.1,780.3L1592.8,776.2L1597.6,780.3L1592.8,784.5ZM1588.4,780.4L1593.2,776.3L1597.9,780.4L1593.2,784.6ZM1600.0,759.8L1604.8,755.7L1609.5,759.8L1604.8,764.0ZM1600.3,759.8L1605.0,755.7L1609.8,759.8L1605.0,764.0ZM1609.1,758.7L1613.9,754.6L1618.6,758.7L1613.9,762.9ZM1609.4,758.7L1614.1,754.5L1618.9,758.7L1614.1,762.8ZM1613.6,778.4L1618.3,774.2L1623.1,778.4L1618.3,782.5ZM1614.0,778.4L1618.7,774.2L1623.5,778.4L1618.7,782.5ZM1617.6,766.3L1622.3,762.1L1627.1,766.3L1622.3,770.4ZM1619.2,767.1L1624.0,763.0L1628.7,767.1L1624.0,771.3ZM1621.8,771.2L1626.5,767.0L1631.3,771.2L1626.5,775.3ZM1634.4,771.6L1639.2,767.5L1643.9,771.6L1639.2,775.8ZM1637.2,766.7L1641.9,762.6L1646.7,766.7L1641.9,770.9ZM1638.0,766.6L1642.7,762.4L1647.5,766.6L1642.7,770.7ZM1642.3,776.1L1647.1,772.0L1651.8,776.1L1647.1,780.3ZM1643.6,776.4L1648.3,772.2L1653.1,776.4L1648.3,780.5ZM1647.1,769.9L1651.9,765.8L1656.6,769.9L1651.9,774.1ZM1688.3,771.4L1693.1,767.3L1697.8,771.4L1693.1,775.6ZM1689.9,768.7L1694.7,764.5L1699.4,768.7L1694.7,772.8ZM1691.6,769.0L1696.3,764.9L1701.1,769.0L1696.3,773.2ZM1693.2,772.4L1698.0,768.2L1702.7,772.4L1698.0,776.5ZM1694.9,772.4L1699.6,768.2L1704.4,772.4L1699.6,776.5ZM1696.5,769.1L1701.3,764.9L1706.0,769.1L1701.3,773.2ZM1698.1,769.2L1702.8,765.0L1707.6,769.2L1702.8,773.3ZM1699.5,772.7L1704.3,768.5L1709.0,772.7L1704.3,776.8ZM1700.9,773.0L1705.7,768.8L1710.4,773.0L1705.7,777.1ZM1702.8,768.9L1707.6,764.7L1712.3,768.9L1707.6,773.0ZM1704.2,768.8L1709.0,764.7L1713.7,768.8L1709.0,773.0ZM1706.4,772.8L1711.1,768.7L1715.9,772.8L1711.1,777.0ZM1707.9,772.7L1712.6,768.5L1717.4,772.7L1712.6,776.8ZM1709.4,769.4L1714.1,765.3L1718.9,769.4L1714.1,773.6ZM1710.9,769.1L1715.7,765.0L1720.4,769.1L1715.7,773.3ZM1712.4,771.8L1717.2,767.7L1721.9,771.8L1717.2,776.0ZM1714.3,771.9L1719.0,767.7L1723.8,771.9L1719.0,776.0ZM1715.3,770.5L1720.1,766.3L1724.8,770.5L1720.1,774.6Z" fill="#000" fill-rule="nonzero"/>
<path d="M209.6,806.0L212.0,797.1L221.5,797.1L219.1,806.0ZM214.2,788.9L216.7,780.0L225.3,755.8L234.9,755.8L226.2,780.0L223.7,788.9ZM228.2,747.8L231.2,739.0L236.0,730.7L245.5,730.7L240.8,739.0L237.7,747.8ZM239.5,723.0L249.2,709.0L259.6,694.7L259.6,694.4L269.1,694.4L269.1,694.7L258.8,709.0L249.0,723.0ZM262.1,686.3L262.2,685.6L270.4,670.1L270.6,669.5L280.1,669.5L279.9,670.1L271.8,685.6L271.6,686.3ZM273.0,661.4L273.1,661.0L280.2,645.0L286.8,629.2L296.3,629.2L289.8,645.0L282.6,661.0L282.5,661.4ZM289.1,621.1L295.4,604.9L295.7,603.5L305.2,603.5L304.9,604.9L298.6,621.1ZM297.0,595.1L297.2,593.1L303.6,561.2L303.8,560.7L313.3,560.7L313.1,561.2L306.8,593.1L306.5,595.1ZM306.0,552.5L306.4,551.1L310.9,536.5L311.4,534.5L320.9,534.5L320.4,536.5L315.9,551.1L315.5,552.5ZM313.5,526.3L313.6,525.6L322.8,492.8L322.8,492.6L332.3,492.6L332.2,492.8L323.1,525.6L323.0,526.3ZM325.1,484.4L325.6,482.8L330.1,469.0L330.4,466.4L339.9,466.4L339.6,469.0L335.1,482.8L334.6,484.4ZM331.6,457.9L331.8,456.7L341.8,424.8L341.8,424.5L351.3,424.5L351.2,424.8L341.2,456.7L341.1,457.9ZM343.4,416.1L343.6,414.8L349.9,400.2L350.3,398.7L359.8,398.7L359.4,400.2L353.1,414.8L352.9,416.1ZM352.4,390.5L352.8,389.3L361.2,368.5L366.7,358.6L376.2,358.6L370.8,368.5L362.2,389.3L361.9,390.5ZM378.4,349.5L380.0,348.4L388.5,338.9L388.5,347.1L380.0,356.6L378.4,357.8ZM383.8,343.0L385.5,339.4L395.0,339.4L393.2,343.0ZM383.8,343.0L388.5,338.9L393.2,343.0L388.5,347.1ZM389.2,331.7L389.2,331.5L408.5,302.5L418.0,302.5L398.8,331.5L398.7,331.7ZM418.6,292.2L419.5,292.1L434.2,294.6L437.1,295.5L437.1,303.8L434.2,302.8L419.5,300.3L418.6,300.5ZM445.0,298.3L453.7,304.4L462.0,312.4L462.0,320.6L453.7,312.6L445.0,306.6ZM466.8,316.5L474.8,326.0L475.0,326.4L465.5,326.4L465.2,326.0L457.2,316.5ZM457.2,316.5L462.0,312.4L466.8,316.5L462.0,320.6ZM480.1,333.2L483.2,337.5L486.3,350.6L476.8,350.6L473.8,337.5L470.6,333.2ZM488.2,358.9L495.6,391.1L496.0,393.0L486.5,393.0L486.1,391.1L478.7,358.9ZM497.7,401.4L501.1,417.1L501.8,419.7L492.3,419.7L491.6,417.1L488.2,401.4ZM504.1,427.9L505.8,434.0L510.2,452.0L512.7,461.8L503.2,461.8L500.8,452.0L496.2,434.0L494.6,427.9ZM514.8,470.1L519.4,488.1L519.4,488.3L509.9,488.3L509.9,488.1L505.3,470.1ZM521.1,496.6L527.4,526.3L528.3,530.9L518.8,530.9L517.9,526.3L511.6,496.6ZM530.0,539.2L533.8,557.6L524.3,557.6L520.5,539.2ZM535.5,565.9L538.0,585.0L540.4,600.6L530.9,600.6L528.5,585.0L526.0,565.9ZM541.5,609.0L543.0,627.7L533.5,627.7L532.0,609.0ZM543.7,636.2L544.0,640.0L546.5,668.0L546.7,671.1L537.2,671.1L537.0,668.0L534.5,640.0L534.2,636.2ZM547.4,679.6L548.0,688.0L549.0,698.3L539.5,698.3L538.5,688.0L537.9,679.6ZM549.9,706.7L551.5,723.0L554.2,741.5L544.7,741.5L542.0,723.0L540.4,706.7ZM555.5,749.9L556.8,758.0L557.7,768.5L548.2,768.5L547.2,758.0L546.0,749.9ZM558.5,777.0L559.5,788.0L561.2,799.0L562.7,811.7L553.2,811.7L551.8,799.0L550.0,788.0L549.0,777.0ZM563.6,820.2L564.5,828.0L566.1,838.8L556.6,838.8L555.0,828.0L554.1,820.2ZM567.3,847.2L570.4,880.2L570.6,882.1L561.1,882.1L560.9,880.2L557.8,847.2ZM571.7,890.5L574.0,907.6L574.3,909.1L564.8,909.1L564.5,907.6L562.2,890.5ZM575.4,917.5L579.5,947.0L579.8,952.2L570.3,952.2L570.0,947.0L565.9,917.5ZM580.3,960.7L580.8,967.0L582.0,979.5L572.5,979.5L571.2,967.0L570.8,960.7ZM582.8,987.9L586.8,1020.2L587.1,1022.7L577.6,1022.7L577.2,1020.2L573.3,987.9ZM588.2,1031.1L589.1,1038.0L589.9,1049.8L580.4,1049.8L579.6,1038.0L578.7,1031.1ZM590.5,1058.3L593.8,1093.1L584.3,1093.1L581.0,1058.3ZM594.6,1101.6L596.3,1120.3L586.8,1120.3L585.1,1101.6ZM597.1,1128.8L599.2,1150.0L600.6,1163.6L591.1,1163.6L589.8,1150.0L587.6,1128.8ZM601.4,1172.0L602.1,1180.2L605.2,1190.4L595.7,1190.4L592.6,1180.2L591.9,1172.0ZM607.7,1198.5L616.8,1230.4L617.8,1231.9L608.3,1231.9L607.2,1230.4L598.2,1198.5ZM613.4,1237.7L622.8,1225.0L624.7,1222.7L634.2,1222.7L632.2,1225.0L622.9,1237.7ZM629.6,1215.9L636.5,1183.9L636.9,1181.7L646.4,1181.7L646.0,1183.9L639.1,1215.9ZM638.7,1173.4L642.0,1158.4L642.5,1155.0L652.0,1155.0L651.5,1158.4L648.2,1173.4ZM643.9,1146.6L649.2,1114.6L649.5,1112.1L659.0,1112.1L658.8,1114.6L653.4,1146.6ZM650.5,1103.6L652.0,1090.0L652.4,1084.9L661.9,1084.9L661.5,1090.0L660.0,1103.6ZM653.3,1076.5L656.5,1043.0L656.8,1041.6L666.3,1041.6L666.0,1043.0L662.8,1076.5ZM658.0,1033.2L660.9,1014.6L670.4,1014.6L667.5,1033.2ZM662.1,1006.2L664.8,973.7L665.0,971.4L674.5,971.4L674.2,973.7L671.6,1006.2ZM665.8,962.9L666.5,956.0L668.5,944.3L678.0,944.3L676.0,956.0L675.3,962.9ZM669.4,935.9L671.0,903.0L671.3,900.9L680.8,900.9L680.5,903.0L678.9,935.9ZM672.5,892.5L673.8,884.0L674.7,873.8L684.2,873.8L683.2,884.0L682.0,892.5ZM675.6,865.4L679.2,832.0L679.4,830.6L688.9,830.6L688.8,832.0L685.1,865.4ZM680.2,822.1L681.0,813.0L682.5,803.5L692.0,803.5L690.5,813.0L689.7,822.1ZM683.7,795.1L684.6,789.0L686.3,760.2L695.8,760.2L694.1,789.0L693.2,795.1ZM687.2,751.7L689.5,733.1L699.0,733.1L696.7,751.7ZM690.6,724.6L692.2,711.2L694.6,689.9L704.1,689.9L701.8,711.2L700.1,724.6ZM695.5,681.4L697.2,665.6L697.5,662.7L707.0,662.7L706.8,665.6L705.0,681.4ZM698.1,654.2L700.8,620.0L700.8,619.4L710.3,619.4L710.2,620.0L707.6,654.2ZM701.5,610.9L702.9,592.1L712.4,592.1L711.0,610.9ZM703.6,583.7L706.2,551.1L706.5,548.8L716.0,548.8L715.8,551.1L713.1,583.7ZM707.4,540.3L710.9,525.6L712.1,522.2L721.6,522.2L720.4,525.6L716.9,540.3ZM715.3,514.3L721.2,503.0L726.2,495.5L735.8,495.5L730.8,503.0L724.8,514.3ZM731.0,491.4L734.5,489.7L742.0,491.4L742.0,499.6L734.5,497.9L731.0,499.6ZM746.8,495.5L747.8,496.7L738.3,496.7L737.2,495.5ZM726.2,495.5L731.0,491.4L735.8,495.5L731.0,499.6ZM737.2,495.5L742.0,491.4L746.8,495.5L742.0,499.6ZM752.7,503.6L756.0,516.5L756.2,521.9L746.7,521.9L746.5,516.5L743.2,503.6ZM756.8,530.4L763.2,562.1L763.7,564.7L754.2,564.7L753.8,562.1L747.3,530.4ZM765.3,573.1L767.8,586.7L768.6,591.6L759.1,591.6L758.2,586.7L755.8,573.1ZM769.9,600.0L774.1,630.0L774.5,634.7L765.0,634.7L764.6,630.0L760.4,600.0ZM775.1,643.1L776.4,661.9L766.9,661.9L765.6,643.1ZM777.2,670.3L780.8,700.0L781.6,705.1L772.1,705.1L771.2,700.0L767.7,670.3ZM782.9,713.5L784.0,720.0L786.8,731.9L777.3,731.9L774.5,720.0L773.4,713.5ZM788.6,740.1L790.5,773.0L790.8,775.1L781.3,775.1L781.0,773.0L779.1,740.1ZM791.6,783.5L793.6,802.2L784.1,802.2L782.1,783.5ZM794.5,810.7L795.8,823.0L798.4,845.5L788.9,845.5L786.2,823.0L785.0,810.7ZM799.4,853.9L799.8,856.7L800.6,872.7L791.1,872.7L790.2,856.7L789.9,853.9ZM801.0,881.1L801.0,882.3L791.5,882.3L791.5,881.1ZM796.3,878.1L805.0,872.4L819.3,861.6L819.3,869.9L805.0,880.6L796.3,886.4ZM814.5,865.8L817.0,860.8L826.5,860.8L824.0,865.8ZM791.5,882.3L796.3,878.1L801.0,882.3L796.3,886.4ZM814.5,865.8L819.3,861.6L824.0,865.8L819.3,869.9ZM820.9,853.3L828.1,839.4L829.6,836.6L839.1,836.6L837.6,839.4L830.4,853.3ZM838.8,825.6L851.2,820.6L851.2,828.9L838.8,833.9ZM846.5,824.8L851.9,812.9L854.2,804.7L863.7,804.7L861.4,812.9L856.0,824.8ZM846.5,824.8L851.2,820.6L856.0,824.8L851.2,828.9ZM856.4,796.5L858.2,790.0L862.2,778.6L871.7,778.6L867.8,790.0L865.9,796.5ZM864.9,770.5L869.2,758.0L876.5,740.0L877.7,738.0L887.2,738.0L886.0,740.0L878.8,758.0L874.4,770.5ZM889.5,731.2L905.0,730.9L905.0,739.1L889.5,739.5ZM909.8,735.0L911.4,737.9L901.9,737.9L900.2,735.0ZM900.2,735.0L905.0,730.9L909.8,735.0L905.0,739.1ZM915.6,745.3L918.8,751.0L931.8,766.0L922.2,766.0L909.2,751.0L906.1,745.3ZM927.0,761.9L935.6,762.4L935.6,770.7L927.0,770.1ZM922.2,766.0L927.0,761.9L931.8,766.0L927.0,770.1ZM943.7,761.6L955.0,752.9L958.6,755.6L958.6,763.9L955.0,761.1L943.7,769.9ZM965.4,760.7L967.0,761.9L967.0,770.1L965.4,769.0ZM971.8,766.0L984.8,785.0L975.2,785.0L962.2,766.0ZM980.0,780.9L988.2,775.1L988.2,783.4L980.0,789.1ZM962.2,766.0L967.0,761.9L971.8,766.0L967.0,770.1ZM975.2,785.0L980.0,780.9L984.8,785.0L980.0,789.1ZM995.1,770.2L997.0,768.9L997.0,777.1L995.1,778.5ZM992.2,773.0L998.0,757.5L1007.5,757.5L1001.8,773.0ZM992.2,773.0L997.0,768.9L1001.8,773.0L997.0,777.1ZM1000.9,749.6L1002.0,746.7L1010.0,724.0L1014.8,717.8L1024.3,717.8L1019.5,724.0L1011.5,746.7L1010.4,749.6ZM1020.0,711.1L1020.2,710.7L1031.2,697.0L1031.6,696.3L1041.1,696.3L1040.8,697.0L1029.8,710.7L1029.5,711.1ZM1035.3,688.7L1036.2,686.7L1044.2,662.7L1053.8,662.7L1045.8,686.7L1044.8,688.7ZM1053.8,662.7L1055.4,670.1L1045.9,670.1L1044.2,662.7ZM1057.2,678.4L1060.8,694.7L1060.9,696.8L1051.4,696.8L1051.2,694.7L1047.7,678.4ZM1061.6,705.2L1063.5,726.7L1065.0,740.1L1055.5,740.1L1054.0,726.7L1052.1,705.2ZM1066.0,748.5L1068.8,766.7L1068.8,767.1L1059.3,767.1L1059.2,766.7L1056.5,748.5ZM1069.7,775.6L1071.5,793.0L1072.6,810.4L1063.1,810.4L1062.0,793.0L1060.2,775.6ZM1065.8,807.7L1073.9,790.7L1083.4,790.7L1075.3,807.7ZM1084.5,780.4L1085.0,779.9L1094.7,788.9L1094.7,797.1L1085.0,788.1L1084.5,788.7ZM1099.5,793.0L1109.8,806.7L1112.2,809.8L1102.7,809.8L1100.2,806.7L1090.0,793.0ZM1090.0,793.0L1094.7,788.9L1099.5,793.0L1094.7,797.1ZM1117.4,816.5L1117.8,817.0L1108.2,817.0L1107.9,816.5ZM1108.2,817.0L1112.2,800.0L1112.4,799.3L1121.9,799.3L1121.8,800.0L1117.8,817.0ZM1113.8,790.9L1116.2,777.0L1119.0,756.3L1128.5,756.3L1125.8,777.0L1123.3,790.9ZM1120.2,747.9L1121.2,740.0L1123.1,729.3L1132.6,729.3L1130.8,740.0L1129.7,747.9ZM1124.6,721.0L1126.0,713.0L1135.5,713.0L1134.1,721.0ZM1135.5,713.0L1140.0,739.5L1130.5,739.5L1126.0,713.0ZM1141.5,747.9L1144.7,766.4L1135.2,766.4L1132.0,747.9ZM1147.1,774.6L1154.8,800.0L1158.5,807.6L1149.0,807.6L1145.2,800.0L1137.6,774.6ZM1162.3,815.2L1164.8,820.0L1172.2,831.1L1162.7,831.1L1155.2,820.0L1152.8,815.2ZM1174.4,839.2L1177.5,860.0L1180.3,873.7L1170.8,873.7L1168.0,860.0L1164.9,839.2ZM1182.1,882.0L1182.8,885.0L1173.2,885.0L1172.6,882.0ZM1173.2,885.0L1176.5,869.6L1186.0,869.6L1182.8,885.0ZM1178.2,861.3L1181.2,846.7L1185.2,827.0L1194.7,827.0L1190.8,846.7L1187.7,861.3ZM1188.9,819.4L1189.2,818.7L1198.8,818.7L1198.4,819.4ZM1194.0,814.6L1199.0,808.9L1199.0,817.1L1194.0,822.9ZM1203.8,813.0L1207.6,822.7L1198.1,822.7L1194.2,813.0ZM1189.2,818.7L1194.0,814.6L1198.8,818.7L1194.0,822.9ZM1194.2,813.0L1199.0,808.9L1203.8,813.0L1199.0,817.1ZM1210.8,830.6L1211.8,833.0L1215.8,860.0L1217.2,864.9L1207.7,864.9L1206.2,860.0L1202.2,833.0L1201.3,830.6ZM1219.6,873.1L1222.8,884.0L1225.8,890.8L1216.3,890.8L1213.2,884.0L1210.1,873.1ZM1229.3,898.5L1231.8,904.0L1241.5,920.0L1247.9,928.0L1238.4,928.0L1232.0,920.0L1222.2,904.0L1219.8,898.5ZM1253.2,934.7L1253.5,935.0L1244.0,935.0L1243.7,934.7ZM1244.0,935.0L1247.2,916.9L1256.7,916.9L1253.5,935.0ZM1248.3,908.5L1250.2,886.7L1251.8,873.7L1261.3,873.7L1259.8,886.7L1257.8,908.5ZM1252.8,865.2L1254.2,853.0L1255.1,846.6L1264.6,846.6L1263.8,853.0L1262.3,865.2ZM1256.2,838.2L1257.2,830.7L1260.0,821.0L1269.5,821.0L1266.8,830.7L1265.7,838.2ZM1264.7,816.9L1272.7,820.9L1272.7,829.1L1264.7,825.1ZM1277.5,825.0L1281.5,832.4L1272.0,832.4L1268.0,825.0ZM1260.0,821.0L1264.7,816.9L1269.5,821.0L1264.7,825.1ZM1268.0,825.0L1272.7,820.9L1277.5,825.0L1272.7,829.1ZM1285.5,839.9L1287.8,844.0L1290.2,857.9L1280.7,857.9L1278.2,844.0L1276.0,839.9ZM1291.7,866.3L1291.8,866.7L1295.8,900.0L1295.9,901.0L1286.4,901.0L1286.2,900.0L1282.2,866.7L1282.2,866.3ZM1297.2,909.5L1299.8,926.7L1300.0,928.0L1290.5,928.0L1290.2,926.7L1287.7,909.5ZM1301.7,936.4L1303.8,946.7L1311.8,956.0L1302.2,956.0L1294.2,946.7L1292.2,936.4ZM1307.0,951.9L1318.0,955.9L1318.0,964.1L1307.0,960.1ZM1313.2,960.0L1313.3,959.5L1322.8,959.5L1322.8,960.0ZM1302.2,956.0L1307.0,951.9L1311.8,956.0L1307.0,960.1ZM1313.2,960.0L1318.0,955.9L1322.8,960.0L1318.0,964.1ZM1314.3,951.1L1316.6,932.4L1326.1,932.4L1323.8,951.1ZM1317.6,924.0L1321.2,893.0L1321.9,889.2L1331.4,889.2L1330.8,893.0L1327.1,924.0ZM1323.2,880.8L1325.2,868.0L1325.6,862.2L1335.1,862.2L1334.8,868.0L1332.7,880.8ZM1326.1,853.7L1328.1,818.8L1337.6,818.8L1335.6,853.7ZM1328.6,810.3L1329.2,800.0L1330.2,791.6L1339.7,791.6L1338.8,800.0L1338.1,810.3ZM1331.2,783.1L1334.2,757.0L1334.7,748.3L1344.2,748.3L1343.8,757.0L1340.7,783.1ZM1335.2,739.8L1336.3,721.1L1345.8,721.1L1344.7,739.8ZM1336.8,712.6L1338.2,687.0L1339.7,677.7L1349.2,677.7L1347.8,687.0L1346.3,712.6ZM1341.0,669.3L1342.2,661.0L1351.8,661.0L1350.5,669.3ZM1351.8,661.0L1357.9,669.4L1348.4,669.4L1342.2,661.0ZM1358.7,671.6L1364.0,676.9L1364.0,685.1L1358.7,679.9ZM1359.2,681.0L1364.2,665.0L1368.2,655.0L1377.7,655.0L1373.8,665.0L1368.8,681.0ZM1359.2,681.0L1364.0,676.9L1368.8,681.0L1364.0,685.1ZM1371.4,647.1L1378.0,630.7L1387.5,630.7L1380.9,647.1ZM1387.5,630.7L1387.5,631.8L1378.0,631.8L1378.0,630.7ZM1388.0,640.3L1389.8,673.0L1390.0,675.3L1380.5,675.3L1380.2,673.0L1378.5,640.3ZM1391.0,683.7L1393.2,702.4L1383.7,702.4L1381.5,683.7ZM1394.2,710.8L1397.8,740.0L1398.4,745.6L1388.9,745.6L1388.2,740.0L1384.7,710.8ZM1399.4,754.0L1401.7,772.7L1392.2,772.7L1389.9,754.0ZM1402.8,781.1L1405.8,804.0L1396.2,804.0L1393.3,781.1ZM1396.2,804.0L1397.8,792.2L1407.3,792.2L1405.8,804.0ZM1398.9,783.8L1400.2,773.0L1401.2,765.1L1410.7,765.1L1409.8,773.0L1408.4,783.8ZM1402.2,756.7L1404.2,740.0L1406.7,722.0L1416.2,722.0L1413.8,740.0L1411.7,756.7ZM1407.9,713.5L1408.2,710.7L1417.8,710.7L1417.4,713.5ZM1413.0,706.6L1421.0,703.9L1421.0,712.1L1413.0,714.9ZM1425.8,708.0L1429.3,714.6L1419.8,714.6L1416.2,708.0ZM1408.2,710.7L1413.0,706.6L1417.8,710.7L1413.0,714.9ZM1416.2,708.0L1421.0,703.9L1425.8,708.0L1421.0,712.1ZM1430.3,713.0L1436.0,710.6L1436.0,718.9L1430.3,721.3ZM1431.2,714.7L1436.2,700.0L1441.5,687.8L1451.0,687.8L1445.8,700.0L1440.8,714.7ZM1431.2,714.7L1436.0,710.6L1440.8,714.7L1436.0,718.9ZM1453.1,693.7L1457.5,712.0L1448.0,712.0L1443.6,693.7ZM1459.5,720.3L1464.9,754.9L1455.4,754.9L1450.0,720.3ZM1466.2,763.3L1468.7,781.9L1459.2,781.9L1456.7,763.3ZM1460.3,789.7L1464.3,754.9L1473.8,754.9L1469.8,789.7ZM1465.2,746.4L1466.0,740.0L1467.4,727.8L1476.9,727.8L1475.5,740.0L1474.7,746.4ZM1468.4,719.3L1470.0,706.7L1472.6,684.6L1482.1,684.6L1479.5,706.7L1477.9,719.3ZM1473.6,676.1L1474.0,673.0L1475.4,657.4L1484.9,657.4L1483.5,673.0L1483.1,676.1ZM1476.2,649.0L1477.2,637.0L1483.2,618.7L1492.8,618.7L1486.8,637.0L1485.7,649.0ZM1488.0,614.6L1491.6,613.6L1491.6,621.9L1488.0,622.9ZM1483.2,618.7L1488.0,614.6L1492.8,618.7L1488.0,622.9ZM1499.8,611.3L1502.7,610.6L1502.7,618.9L1499.8,619.6ZM1498.0,614.7L1502.0,600.0L1502.0,599.4L1511.5,599.4L1511.5,600.0L1507.5,614.7ZM1498.0,614.7L1502.7,610.6L1507.5,614.7L1502.7,618.9ZM1503.0,591.0L1504.2,580.0L1508.2,557.0L1508.4,556.4L1517.9,556.4L1517.8,557.0L1513.8,580.0L1512.5,591.0ZM1510.4,548.2L1514.0,533.3L1523.5,533.3L1519.9,548.2ZM1523.5,533.3L1523.8,536.8L1514.3,536.8L1514.0,533.3ZM1524.5,545.3L1525.8,560.0L1526.5,580.2L1517.0,580.2L1516.2,560.0L1515.0,545.3ZM1526.8,588.7L1527.2,600.0L1527.6,607.5L1518.1,607.5L1517.8,600.0L1517.3,588.7ZM1527.9,616.0L1529.0,640.0L1529.5,650.9L1520.0,650.9L1519.5,640.0L1518.4,616.0ZM1529.9,659.4L1530.9,678.2L1521.4,678.2L1520.4,659.4ZM1531.3,686.7L1533.0,720.0L1533.0,721.6L1523.5,721.6L1523.5,720.0L1521.8,686.7ZM1533.3,730.1L1534.0,748.9L1524.5,748.9L1523.8,730.1ZM1534.4,757.4L1535.0,773.0L1535.7,792.4L1526.2,792.4L1525.5,773.0L1524.9,757.4ZM1536.0,800.9L1536.7,819.7L1527.2,819.7L1526.5,800.9ZM1537.0,828.2L1537.9,863.2L1528.4,863.2L1527.5,828.2ZM1538.2,871.7L1538.7,890.5L1529.2,890.5L1528.7,871.7ZM1538.9,898.9L1539.0,900.0L1540.2,920.0L1543.8,933.4L1534.3,933.4L1530.8,920.0L1529.5,900.0L1529.4,898.9ZM1546.6,941.4L1551.5,953.0L1542.0,953.0L1537.1,941.4ZM1546.7,948.9L1551.6,952.7L1551.6,961.0L1546.7,957.1ZM1542.0,953.0L1546.7,948.9L1551.5,953.0L1546.7,957.1ZM1559.3,951.5L1566.7,948.9L1566.7,957.1L1559.3,959.8ZM1562.0,953.0L1566.0,926.7L1566.0,926.2L1575.5,926.2L1575.5,926.7L1571.5,953.0ZM1562.0,953.0L1566.7,948.9L1571.5,953.0L1566.7,957.1ZM1567.3,917.8L1570.0,900.0L1570.1,899.2L1579.6,899.2L1579.5,900.0L1576.8,917.8ZM1571.3,890.8L1574.0,873.0L1576.5,856.1L1586.0,856.1L1583.5,873.0L1580.8,890.8ZM1577.8,847.7L1578.0,846.7L1580.6,829.1L1590.1,829.1L1587.5,846.7L1587.3,847.7ZM1581.8,820.7L1582.0,820.0L1586.0,793.0L1586.6,786.1L1596.1,786.1L1595.5,793.0L1591.5,820.0L1591.3,820.7ZM1587.5,777.6L1589.2,760.0L1589.4,758.9L1598.9,758.9L1598.8,760.0L1597.0,777.6ZM1590.9,750.6L1592.2,742.7L1601.8,742.7L1600.4,750.6ZM1601.8,742.7L1605.8,753.0L1609.9,768.4L1600.4,768.4L1596.2,753.0L1592.2,742.7ZM1612.1,776.7L1616.5,793.0L1607.0,793.0L1602.6,776.7ZM1607.0,793.0L1607.1,791.1L1616.6,791.1L1616.5,793.0ZM1608.0,782.7L1611.0,753.0L1611.7,747.9L1621.2,747.9L1620.5,753.0L1617.5,782.7ZM1613.0,739.5L1615.0,726.7L1615.6,720.9L1625.1,720.9L1624.5,726.7L1622.5,739.5ZM1616.6,712.4L1619.0,693.0L1620.3,677.6L1629.8,677.6L1628.5,693.0L1626.1,712.4ZM1621.0,669.2L1621.2,666.7L1623.7,650.6L1633.2,650.6L1630.8,666.7L1630.5,669.2ZM1634.5,643.3L1637.8,673.0L1638.3,678.0L1628.8,678.0L1628.2,673.0L1625.0,643.3ZM1639.4,686.5L1641.6,705.1L1632.1,705.1L1629.9,686.5ZM1642.7,713.6L1644.5,726.7L1646.3,748.4L1636.8,748.4L1635.0,726.7L1633.2,713.6ZM1647.2,756.8L1649.3,775.5L1639.8,775.5L1637.7,756.8ZM1640.6,776.0L1644.1,741.2L1653.6,741.2L1650.1,776.0ZM1645.1,732.8L1647.4,714.1L1656.9,714.1L1654.6,732.8ZM1648.3,705.7L1651.0,673.0L1651.1,670.8L1660.6,670.8L1660.5,673.0L1657.8,705.7ZM1651.6,662.3L1652.6,643.5L1662.1,643.5L1661.1,662.3ZM1653.1,635.0L1653.2,633.0L1655.0,616.7L1655.9,600.1L1665.4,600.1L1664.5,616.7L1662.8,633.0L1662.6,635.0ZM1656.4,591.7L1657.2,576.7L1657.7,572.9L1667.2,572.9L1666.8,576.7L1665.9,591.7ZM1658.6,564.5L1661.2,540.7L1670.8,540.7L1668.1,564.5ZM1670.8,540.7L1672.9,551.6L1663.4,551.6L1661.2,540.7ZM1674.5,559.9L1676.5,570.0L1678.1,578.4L1668.6,578.4L1667.0,570.0L1665.0,559.9ZM1679.8,586.7L1681.8,596.7L1688.4,620.6L1678.9,620.6L1672.2,596.7L1670.3,586.7ZM1681.6,612.7L1687.0,596.7L1687.7,594.9L1697.2,594.9L1696.5,596.7L1691.1,612.7ZM1690.8,587.0L1695.0,576.7L1701.8,553.8L1711.3,553.8L1704.5,576.7L1700.3,587.0ZM1704.2,545.7L1709.6,527.7L1719.1,527.7L1713.7,545.7ZM1712.3,519.6L1719.0,503.0L1724.2,487.0L1724.3,486.8L1733.8,486.8L1733.8,487.0L1728.5,503.0L1721.8,519.6ZM1727.5,478.9L1731.0,470.0L1740.5,470.0L1737.0,478.9ZM1740.5,470.0L1742.3,479.1L1732.8,479.1L1731.0,470.0ZM1743.9,487.4L1745.8,496.7L1749.5,522.0L1740.0,522.0L1736.2,496.7L1734.4,487.4ZM1750.8,530.4L1754.2,548.0L1744.8,548.0L1741.3,530.4Z" fill="#000" fill-rule="nonzero"/>
<rect x="1328.2" y="26.4" width="420.2" height="148.6" fill="#fff" stroke="#5a5a5a" stroke-width="2.4"/>
<line x1="1341" x2="1483.5" y1="67" y2="67" stroke="#000" stroke-width="8.3"/>
<line x1="1341" x2="1483.5" y1="136.2" y2="136.2" stroke="#000" stroke-width="8.3" stroke-dasharray="35 8.5 19 8.5"/>
<text x="1493" y="87" font-size="59.3" fill="#0a0a0a">Measured</text>
<text x="1493.5" y="156.3" font-size="59.3" fill="#0a0a0a">Simulated</text>
<text transform="translate(187.5,52.1) scale(1.000,1.030)" font-size="64.5" text-anchor="end" fill="#2b2b2b">2</text>
<text transform="translate(187.5,237.2) scale(1.000,1.030)" font-size="64.5" text-anchor="end" fill="#2b2b2b">1.5</text>
<text transform="translate(187.5,423.3) scale(1.000,1.030)" font-size="64.5" text-anchor="end" fill="#2b2b2b">1</text>
<text transform="translate(187.5,608.9) scale(1.000,1.030)" font-size="64.5" text-anchor="end" fill="#2b2b2b">0.5</text>
<text transform="translate(187.5,794.5) scale(1.000,1.030)" font-size="64.5" text-anchor="end" fill="#2b2b2b">0</text>
<text transform="translate(187.5,981.1) scale(1.000,1.030)" font-size="64.5" text-anchor="end" fill="#2b2b2b">-0.5</text>
<text transform="translate(187.5,1166.7) scale(1.000,1.030)" font-size="64.5" text-anchor="end" fill="#2b2b2b">-1</text>
<text transform="translate(187.5,1352.3) scale(1.000,1.030)" font-size="64.5" text-anchor="end" fill="#2b2b2b">-1.5</text>
<text transform="translate(187.5,1538.4) scale(1.000,1.030)" font-size="64.5" text-anchor="end" fill="#2b2b2b">-2</text>
<text x="168.0" y="1618.6" font-size="66.0" text-anchor="start" fill="#2b2b2b">10</text>
<text x="233.3" y="1586.2" font-size="53.0" text-anchor="start" fill="#2b2b2b">2</text>
<text x="833.3" y="1618.6" font-size="66.0" text-anchor="start" fill="#2b2b2b">10</text>
<text x="898.6" y="1586.2" font-size="53.0" text-anchor="start" fill="#2b2b2b">3</text>
<text x="1501.3" y="1618.6" font-size="66.0" text-anchor="start" fill="#2b2b2b">10</text>
<text x="1566.6" y="1586.2" font-size="53.0" text-anchor="start" fill="#2b2b2b">4</text>
<text x="762.7" y="1672.5" font-size="72.8" text-anchor="start" fill="#2b2b2b">Frequency(Hz)</text>
<text transform="translate(55.8,768.3) rotate(-90)" font-size="71.3" text-anchor="middle" fill="#2b2b2b">dB re DIRECT</text>
<text x="897.6" y="1831.6" font-size="85" fill="#000" transform="translate(897.6,0) scale(0.9,1) translate(-897.6,0)">(</text>
<text x="924.2" y="1831" font-size="88" font-weight="bold" fill="#000">b</text>
<text x="973.4" y="1831.6" font-size="85" fill="#000" transform="translate(998,0) scale(0.9,1) translate(-998,0)">)</text>
</svg></body></html>
